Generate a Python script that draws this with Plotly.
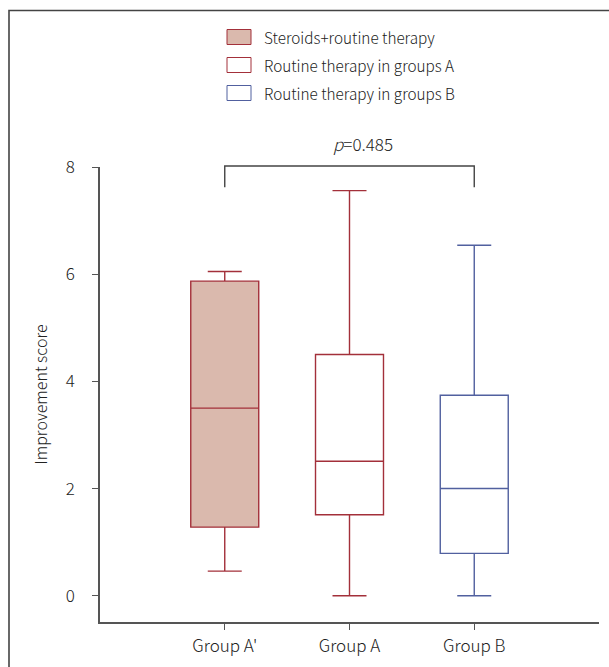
import plotly.graph_objects as go

# ---- data ----
groups = ["Group A'", "Group A", "Group B"]
positions = [1, 2, 3]
lower_fence = [0.46, 0.0, 0.0]
q1 = [1.28, 1.51, 0.79]
median = [3.50, 2.51, 2.00]
q3 = [5.87, 4.50, 3.74]
upper_fence = [6.05, 7.56, 6.54]
legend_labels = ["Steroids+routine therapy", "Routine therapy in groups A", "Routine therapy in groups B"]
p_label = "<i>p</i>=0.485"
y_ticks = [0, 2, 4, 6, 8]
bracket_top, bracket_bottom = 8.02, 7.62

line_colors = ["#a3303a", "#a3303a", "#51609f"]
fill_colors = ["#dab9ad", "#ffffff", "#ffffff"]

FONT = "Noto Sans CJK KR"
WEIGHT = 300
W, H = 609, 667
L, R, T, B = 100, 10, 167, 45
pw, ph = W - L - R, H - T - B
X_RANGE = [0, 4]
Y_RANGE = [-0.49, 8]

def px(x):
    return (x - L) / pw

def py(y):
    return (H - B - y) / ph

def dx(v):
    return (v - X_RANGE[0]) / (X_RANGE[1] - X_RANGE[0])

def dy(v):
    return (v - Y_RANGE[0]) / (Y_RANGE[1] - Y_RANGE[0])

def f(size):
    return dict(family=FONT, size=size, color="#222222", weight=WEIGHT)

fig = go.Figure()
for i in range(3):
    fig.add_trace(go.Box(
        x=[positions[i]], q1=[q1[i]], median=[median[i]], q3=[q3[i]],
        lowerfence=[lower_fence[i]], upperfence=[upper_fence[i]],
        width=0.545, whiskerwidth=0.5,
        fillcolor=fill_colors[i], line=dict(color=line_colors[i], width=1.4),
        boxpoints=False, showlegend=False, hoverinfo="skip",
    ))

shapes = []
# significance bracket (paper coords so it is not clipped)
xa, xb = dx(positions[0]), dx(positions[2])
yt, yb = dy(bracket_top), dy(bracket_bottom)
shapes.append(dict(type="path", xref="paper", yref="paper",
                   path=f"M {xa},{yb} L {xa},{yt} L {xb},{yt} L {xb},{yb}",
                   line=dict(color="#444444", width=1.4)))
# outer partial frame (left + top edges)
fx, fy0, fy1, fx1 = px(9), py(668), py(10.5), px(612)
shapes.append(dict(type="path", xref="paper", yref="paper",
                   path=f"M {fx},{fy0} L {fx},{fy1} L {fx1},{fy1}",
                   line=dict(color="#444444", width=1.6)))

annotations = []
# manual legend
row_y = [37, 65, 93]
for i in range(3):
    shapes.append(dict(type="rect", xref="paper", yref="paper",
                       x0=px(227), x1=px(251), y0=py(row_y[i] - 7.5), y1=py(row_y[i] + 7.5),
                       fillcolor=fill_colors[i], line=dict(color=line_colors[i], width=1)))
    annotations.append(dict(xref="paper", yref="paper", x=px(262), y=py(row_y[i]),
                            text=legend_labels[i], showarrow=False, xanchor="left",
                            yanchor="middle", font=f(15.3)))

annotations.append(dict(xref="paper", yref="paper", x=px(363), y=py(143), text=p_label,
                        showarrow=False, xanchor="center", yanchor="middle",
                        font=f(17)))

fig.update_layout(
    width=W, height=H,
    margin=dict(l=L, r=R, t=T, b=B, pad=0),
    paper_bgcolor="white", plot_bgcolor="white",
    font=f(16),
    shapes=shapes, annotations=annotations,
    showlegend=False,
    xaxis=dict(range=X_RANGE, tickvals=positions, ticktext=groups,
               showgrid=False, zeroline=False, showline=True, linecolor="#555555",
               linewidth=1.5, ticks="outside", ticklen=6, tickcolor="#555555",
               ticklabelstandoff=2, tickfont=f(17)),
    yaxis=dict(range=Y_RANGE, tickvals=y_ticks, showgrid=False, zeroline=False,
               showline=True, linecolor="#555555", linewidth=1.5, ticks="outside",
               ticklen=6, tickcolor="#555555", ticklabelstandoff=14,
               title=dict(text="Improvement score", standoff=14, font=f(16)),
               tickfont=f(17)),
)
fig.write_html("out.html", config={"displayModeBar": False},
               post_script="document.body.style.margin='0';document.body.style.overflow='hidden';window.scrollTo(0,0);")
